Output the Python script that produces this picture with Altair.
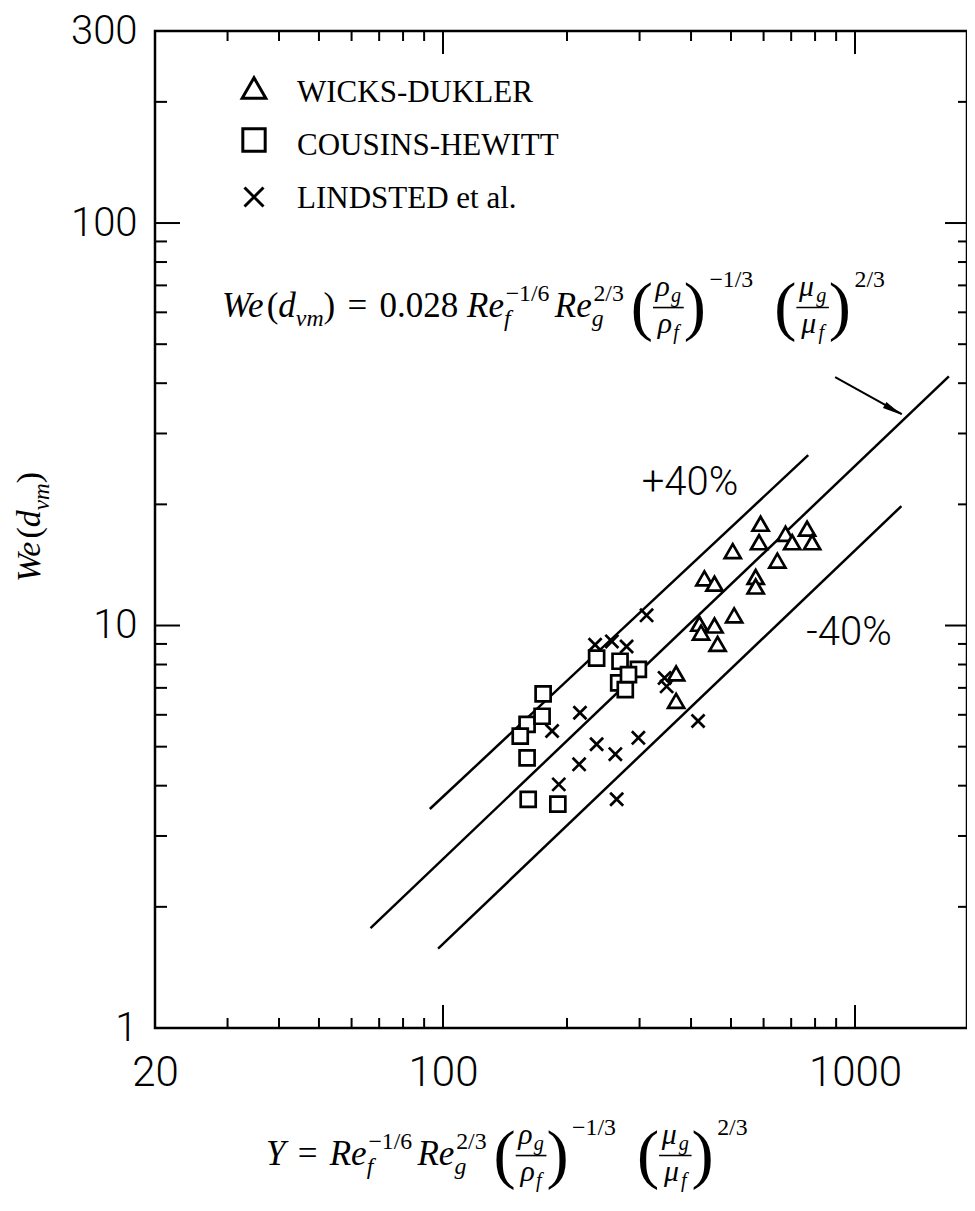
import altair as alt
import pandas as pd

# ---------------- data ----------------
SERIES = ["WICKS-DUKLER", "COUSINS-HEWITT", "LINDSTED et al."]

WD_X = [590, 585, 678, 704, 765, 787, 505, 648, 431, 456, 574, 574, 509, 419, 456, 423, 464, 368, 368]
WD_WE = [17.9, 16.1, 16.9, 16.1, 17.4, 16.1, 15.3, 14.5, 13.1, 12.7, 13.2, 12.5, 10.6, 10.1, 10.0, 9.6, 9.0, 7.6, 6.5]

CH_X = [175, 160, 154, 174, 160, 161, 190, 236, 269, 298, 267, 277, 282]
CH_WE = [6.76, 5.68, 5.31, 5.95, 4.69, 3.70, 3.60, 8.3, 8.15, 7.78, 7.2, 6.93, 7.55]

LI_X = [312, 234, 257, 279, 215, 184, 236, 262, 214, 191, 264, 298, 345, 349, 416]
LI_WE = [10.6, 8.96, 9.13, 8.87, 6.07, 5.47, 5.07, 4.79, 4.52, 4.03, 3.70, 5.26, 7.41, 7.06, 5.79]

LINE_NAMES = ["+40%", "fit", "-40%"]
LINE_X0 = [92.9, 66.7, 97.3]
LINE_X1 = [770, 1690, 1296]
LINE_WE0 = [3.50, 1.77, 1.575]
LINE_WE1 = [26.5, 41.6, 19.8]

LEADER_X = [895, 1299]
LEADER_WE = [41.4, 33.5]
ARROW_X = [1239]
ARROW_WE = [34.3]

X_LABELS = [20, 100, 1000]
Y_LABELS = [1, 10, 100, 300]
X_MAJOR = [100, 1000]
X_MINOR = [30, 40, 50, 60, 70, 80, 90, 200, 300, 400, 500, 600, 700, 800, 900]
Y_MAJOR = [10, 100]
Y_MINOR = [2, 3, 4, 5, 6, 7, 8, 9, 20, 30, 40, 50, 60, 70, 80, 90, 200]

# ---------------- layout ----------------
W, H = 812, 997
PAD_L, PAD_T = 147, 23
OX, OY = 8 + PAD_L, 8 + PAD_T   # page position of the plot's top-left corner

SERIF = "Liberation Serif, Times New Roman, serif"
LIGHT = "Roboto, Liberation Sans, Arial, sans-serif"

xs = alt.Scale(type="log", domain=[20, 1870], nice=False)
ys = alt.Scale(type="log", domain=[1, 300], nice=False)

XPATH = "M-1,-1L1,1M-1,1L1,-1"

# ---------------- text layout helper (Times metrics) ----------------
RM_W = {c: 500 for c in "0123456789"}
RM_W.update({" ": 250, "(": 333, ")": 333, "-": 333, ".": 250, "/": 278,
             "=": 564, "\u2212": 564, "+": 564})
IT_W = {"W": 833, "e": 444, "d": 500, "v": 444, "m": 722, "R": 611, "f": 278,
        "g": 500, "Y": 556, "\u03c1": 517, "\u03bc": 576}


def tw(t, s, it):
    tb = IT_W if it else RM_W
    return sum(tb.get(c, 500) for c in t) * s / 1000.0


class MathRow:
    def __init__(self, x, base, s):
        self.x, self.b, self.s = x, base, s
        self.txt = []
        self.bars = []

    def add(self, t, it=False, size=None, dy=0.0):
        size = size or self.s
        self.txt.append(dict(t=t, x=self.x, y=self.b + dy, s=size, it=it))
        self.x += tw(t, size, it)

    def gap(self, em):
        self.x += em * self.s

    def scripts(self, sub=None, sup=None, sup_shift=0.0):
        k = 0.68 * self.s
        x0 = self.x
        w1 = w2 = 0
        if sub:
            w1 = tw(sub, k, True)
            self.txt.append(dict(t=sub, x=x0, y=self.b + 0.25 * self.s, s=k, it=True))
        if sup:
            w2 = tw(sup, k, False) + sup_shift * self.s
            self.txt.append(dict(t=sup, x=x0 + sup_shift * self.s, y=self.b - 0.45 * self.s, s=k, it=False))
        self.x = x0 + max(w1, w2)

    def frac_group(self, sym, sup):
        s = self.s
        P = 1.9 * s
        self.add("(", size=P, dy=0.3 * s)
        fs = 0.85 * s
        k = 0.68 * fs
        num_w = tw(sym, fs, True) + tw("g", k, True)
        den_w = tw(sym, fs, True) + tw("f", k, True)
        bw = max(num_w, den_w) + 0.15 * s
        axis = self.b - 0.27 * s
        for sub, w, yb in (("g", num_w, axis - 0.33 * s), ("f", den_w, axis + 0.73 * s)):
            x0 = self.x + (bw - w) / 2
            self.txt.append(dict(t=sym, x=x0, y=yb, s=fs, it=True))
            self.txt.append(dict(t=sub, x=x0 + tw(sym, fs, True), y=yb + 0.2 * fs, s=k, it=True))
        self.bars.append(dict(x1=self.x, x2=self.x + bw, y=axis))
        self.x += bw
        self.add(")", size=P, dy=0.3 * s)
        k2 = 0.68 * s
        self.txt.append(dict(t=sup, x=self.x + 0.1 * s, y=self.b - 0.85 * s, s=k2, it=False))
        self.x += tw(sup, k2, False) + 0.1 * s


def tail(row):
    row.add("Re", it=True)
    row.scripts(sub="f", sup="\u22121/6", sup_shift=0.05)
    row.gap(0.15)
    row.add("Re", it=True)
    row.scripts(sub="g", sup="2/3", sup_shift=0.05)
    row.gap(0.2)
    row.frac_group("\u03c1", "\u22121/3")
    row.gap(0.6)
    row.frac_group("\u03bc", "2/3")


# formula inside the plot
f1 = MathRow(222, 317, 35)
f1.add("We", it=True); f1.add("("); f1.add("d", it=True); f1.scripts(sub="vm"); f1.add(")")
f1.gap(0.35); f1.add("="); f1.gap(0.35)
f1.add("0.028"); f1.gap(0.25)
tail(f1)

# x-axis title
f2 = MathRow(266, 1165, 35)
f2.add("Y", it=True); f2.gap(0.35); f2.add("="); f2.gap(0.35)
tail(f2)

# y-axis title, rotated
yt = []
ys0, yx0, ysz = 582, 40, 34
cur = ys0
for t, it, sz, dx in (("We", True, ysz, 0), ("(", False, ysz, 0), ("d", True, ysz, 0),
                      ("vm", True, 0.68 * ysz, 0.25 * ysz), (")", False, ysz, 0)):
    yt.append(dict(t=t, x=yx0 + dx, y=cur, s=sz, it=it))
    cur -= tw(t, sz, it)

all_txt = f1.txt + f2.txt
all_bars = f1.bars + f2.bars


def to_plot(recs):
    out = []
    for r in recs:
        r2 = dict(r)
        if "x" in r2:
            r2["x"] = r2["x"] - OX
        if "x1" in r2:
            r2["x1"] = r2["x1"] - OX
            r2["x2"] = r2["x2"] - OX
        r2["y"] = r2["y"] - OY
        out.append(r2)
    return out


def text_layer(recs, font, italic, align="left", angle=0, baseline="alphabetic", weight="normal"):
    df = pd.DataFrame(to_plot(recs))
    return alt.Chart(df).mark_text(
        font=font, fontStyle="italic" if italic else "normal", align=align,
        baseline=baseline, angle=angle, color="black", fontWeight=weight
    ).encode(
        x=alt.X("x:Q", scale=None, axis=None),
        y=alt.Y("y:Q", scale=None, axis=None),
        text="t:N",
        size=alt.Size("s:Q", scale=None, legend=None),
    )


# ---------------- layers ----------------
xaxis = alt.Axis(values=X_LABELS, format="d", ticks=False, domain=False, grid=False,
                 labelFont=LIGHT, labelFontSize=42, labelFontWeight=300, labelPadding=24,
                 labelFlush=False, labelOverlap=False, labelColor="black", title=None)
yaxis = alt.Axis(values=Y_LABELS, format="d", ticks=False, domain=False, grid=False,
                 labelFont=LIGHT, labelFontSize=40, labelFontWeight=300, labelPadding=18,
                 labelFlush=False, labelOverlap=False, labelColor="black",
                 labelBaseline="middle", title=None)

lines_df = pd.DataFrame({
    "name": LINE_NAMES * 2,
    "Y": LINE_X0 + LINE_X1,
    "We": LINE_WE0 + LINE_WE1,
})
lines = alt.Chart(lines_df).mark_line(color="black", strokeWidth=2.5).encode(
    x=alt.X("Y:Q", scale=xs, axis=xaxis),
    y=alt.Y("We:Q", scale=ys, axis=yaxis),
    detail="name:N",
)

leader_df = pd.DataFrame({"x1": [LEADER_X[0]], "x2": [LEADER_X[1]],
                          "y1": [LEADER_WE[0]], "y2": [LEADER_WE[1]]})
leader = alt.Chart(leader_df).mark_rule(color="black", strokeWidth=2).encode(
    x=alt.X("x1:Q", scale=xs, axis=None), x2="x2:Q",
    y=alt.Y("y1:Q", scale=ys, axis=None), y2="y2:Q",
)
arrow = alt.Chart(pd.DataFrame({"Y": ARROW_X, "We": ARROW_WE})).mark_point(
    shape="M-1,-0.35L1,0L-1,0.35Z", size=400, angle=30, filled=True,
    color="black", opacity=1
).encode(x=alt.X("Y:Q", scale=xs, axis=None), y=alt.Y("We:Q", scale=ys, axis=None))


def points(xv, yv, name, shape, size):
    df = pd.DataFrame({"Y": xv, "We": yv, "series": name})
    return alt.Chart(df).mark_point(
        shape=shape, size=size, filled=True, fill="white", stroke="black",
        strokeWidth=2.7, opacity=1
    ).encode(x=alt.X("Y:Q", scale=xs, axis=None), y=alt.Y("We:Q", scale=ys, axis=None))


pts_wd = points(WD_X, WD_WE, SERIES[0], "triangle-up", 260)
pts_ch = points(CH_X, CH_WE, SERIES[1], "square", 225)
pts_li = points(LI_X, LI_WE, SERIES[2], XPATH, 170)


def xticks(vals, top, length):
    df = pd.DataFrame({"v": vals})
    y0, y1 = (0, length) if top else (H, H - length)
    return alt.Chart(df).mark_rule(color="black", strokeWidth=2).encode(
        x=alt.X("v:Q", scale=xs, axis=None), y=alt.value(y0), y2=alt.value(y1))


def yticks(vals, right, length):
    df = pd.DataFrame({"v": vals})
    x0, x1 = (W, W - length) if right else (0, length)
    return alt.Chart(df).mark_rule(color="black", strokeWidth=2).encode(
        y=alt.Y("v:Q", scale=ys, axis=None), x=alt.value(x0), x2=alt.value(x1))


ticks = [
    xticks(X_MAJOR, False, 23), xticks(X_MINOR, False, 10),
    xticks(X_MAJOR, True, 23), xticks(X_MINOR, True, 10),
    yticks(Y_MAJOR, False, 25), yticks(Y_MINOR, False, 12),
    yticks(Y_MAJOR, True, 22), yticks(Y_MINOR, True, 9),
]

# legend (drawn by hand, top-left inside the frame)
LEG_SYM_X = 254 - OX
LEG_ROWS_Y = [88 - OY, 140 - OY, 197 - OY]
leg_shapes = [("triangle-up", 560), ("square", 500), (XPATH, 360)]
legend_layers = []
for (shp, sz), yy in zip(leg_shapes, LEG_ROWS_Y):
    legend_layers.append(
        alt.Chart(pd.DataFrame({"k": [0]})).mark_point(
            shape=shp, size=sz, filled=True, fill="white", stroke="black",
            strokeWidth=3, opacity=1
        ).encode(x=alt.value(LEG_SYM_X), y=alt.value(yy))
    )
leg_txt = [dict(t=SERIES[i], x=297, y=b, s=31, it=False) for i, b in enumerate([102, 155, 208])]

pct_txt = [dict(t="+40%", x=690, y=483, s=40, it=False), dict(t="-40%", x=849, y=633, s=40, it=False)]

bars = alt.Chart(pd.DataFrame(to_plot(all_bars))).mark_rule(color="black", strokeWidth=1.6).encode(
    x=alt.X("x1:Q", scale=None, axis=None), x2="x2:Q",
    y=alt.Y("y:Q", scale=None, axis=None),
)

layers = [lines] + ticks + [leader, arrow, pts_ch, pts_li, pts_wd] + legend_layers + [
    text_layer(leg_txt, SERIF, False),
    text_layer([r for r in all_txt if r["it"]], SERIF, True),
    text_layer([r for r in all_txt if not r["it"]], SERIF, False),
    bars,
    text_layer([r for r in yt if r["it"]], SERIF, True, angle=270),
    text_layer([r for r in yt if not r["it"]], SERIF, False, angle=270),
    text_layer(pct_txt, LIGHT, False, align="center", baseline="middle", weight=300),
]

chart = alt.layer(*layers).resolve_scale(x="independent", y="independent").properties(
    width=W, height=H,
    autosize=alt.AutoSizeParams(type="none"),
    padding={"left": PAD_L, "top": PAD_T, "right": 0, "bottom": 165},
    background="white",
).configure_view(stroke="black", strokeWidth=2.5)

chart.save("out.html", embed_options={"renderer": "svg", "actions": False})
